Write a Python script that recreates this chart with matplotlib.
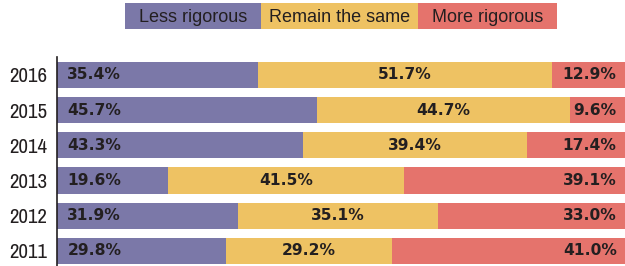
import matplotlib
matplotlib.use("Agg")
import matplotlib.pyplot as plt
from matplotlib.patches import Rectangle
from matplotlib.font_manager import FontProperties
import glob

years = ["2011", "2012", "2013", "2014", "2015", "2016"]
less = [29.8, 31.9, 19.6, 43.3, 45.7, 35.4]
same = [29.2, 35.1, 41.5, 39.4, 44.7, 51.7]
more = [41.0, 33.0, 39.1, 17.4, 9.6, 12.9]
series_names = ["Less rigorous", "Remain the same", "More rigorous"]
colors = ["#7B78A8", "#EEC263", "#E5736C"]
txt = "#231F20"

cands = (glob.glob("/usr/share/fonts/**/ArchivoNarrow[[]wght[]].ttf", recursive=True)
         + glob.glob("/usr/share/fonts/**/DejaVuSansCondensed.ttf", recursive=True))
if cands:
    year_fp = FontProperties(fname=cands[0], size=15)
else:
    year_fp = FontProperties(family="DejaVu Sans", size=12)

W, H = 625, 266
fig = plt.figure(figsize=(W / 100, H / 100), dpi=100)
ax = fig.add_axes([57 / W, 0, 1 - 57 / W, (266 - 57) / H])

ypos = list(range(len(years)))
bh = 0.74
lefts = [0] * len(years)
for vals, c in zip([less, same, more], colors):
    ax.barh(ypos, vals, left=lefts, height=bh, color=c, edgecolor="none")
    lefts = [l + v for l, v in zip(lefts, vals)]

for i in ypos:
    ax.annotate(f"{less[i]:.1f}%", (0, i), xytext=(7.5, 0), textcoords="offset points",
                ha="left", va="center", fontsize=11.2, fontweight="bold", color=txt,
                family="DejaVu Sans")
    ax.text(less[i] + same[i] / 2, i, f"{same[i]:.1f}%", ha="center", va="center",
            fontsize=11.2, fontweight="bold", color=txt, family="DejaVu Sans")
    ax.annotate(f"{more[i]:.1f}%", (100, i), xytext=(-6, 0), textcoords="offset points",
                ha="right", va="center", fontsize=11.2, fontweight="bold", color=txt,
                family="DejaVu Sans")

ax.set_xlim(0, 100)
ax.set_ylim(-0.43, 5.51)
ax.set_yticks(ypos)
ax.set_yticklabels(years, fontproperties=year_fp, color=txt)
ax.tick_params(axis="y", length=0, pad=7)
ax.set_xticks([])
for s in ["top", "right", "bottom"]:
    ax.spines[s].set_visible(False)
ax.spines["left"].set_color(txt)
ax.spines["left"].set_linewidth(1.2)

# legend as adjoining colour blocks
bounds = [125, 261, 418, 557]
for k, (name, c) in enumerate(zip(series_names, colors)):
    x0, x1 = bounds[k], bounds[k + 1]
    fig.add_artist(Rectangle((x0 / W, 1 - 29 / H), (x1 - x0) / W, 26 / H,
                             transform=fig.transFigure, color=c, lw=0))
    fig.text((x0 + x1) / 2 / W, 1 - 17 / H, name, ha="center", va="center",
             fontsize=13, color=txt, family="Liberation Sans")

fig.savefig("out.png", dpi=100)
